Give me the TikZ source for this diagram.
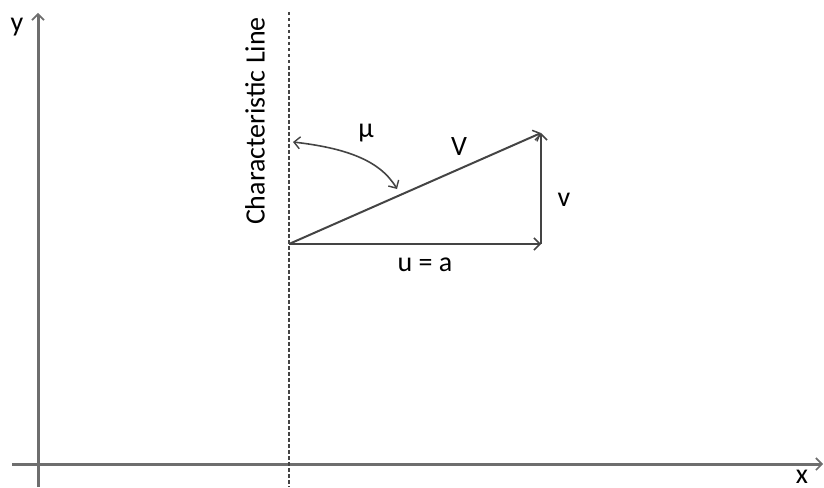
\documentclass[tikz,border=0pt]{standalone}
\usepackage{fontspec}
\setmainfont{Carlito}
\usetikzlibrary{arrows.meta}
\definecolor{axisgrey}{HTML}{6E6E6E}
\definecolor{vecgrey}{HTML}{444444}
\tikzset{
  axis/.style={draw=axisgrey, line width=3pt, -{Straight Barb[length=6pt,width=12pt,line width=1.6pt]}},
  vec/.style={draw=vecgrey, line width=2pt, -{Straight Barb[length=6pt,width=12pt,line width=1.5pt]}},
  charline/.style={draw=vecgrey, line width=1.9pt, dash pattern=on 3.5pt off 2.5pt},
  lbl/.style={text=black, font=\fontsize{28}{32}\selectfont, inner sep=0pt}
}
\begin{document}
\begin{tikzpicture}[x=1pt,y=-1pt]
\useasboundingbox (0,0) rectangle (824,487);
% axes
\coordinate (ybot) at (38,487);
\coordinate (ytop) at (38,13);
\coordinate (xleft) at (12,464);
\coordinate (xright) at (823,464);
\draw[axis] (ybot) -- (ytop);
\draw[axis] (xleft) -- (xright);
\node[lbl] (ylab) at (17,27) {y};
\node[lbl, anchor=base] (xlab) at (802,483) {x};
% characteristic line
\coordinate (ctop) at (289,12);
\coordinate (cbot) at (289,487);
\draw[charline] (ctop) -- (cbot);
\node[lbl, rotate=90] (clab) at (255,121) {Characteristic Line};
% triangle
\coordinate (O) at (289,244);
\coordinate (R) at (541,244);
\coordinate (T) at (541,133);
\draw[vec] (O) -- (T);
\draw[vec] (O) -- (R);
\draw[vec] (R) -- (T);
\node[lbl] (Vlab) at (459,147) {V};
\node[lbl] (vlab) at (564,200) {v};
\node[lbl] (ualab) at (425,265) {u = a};
\node[lbl] (mulab) at (366,133) {μ};
% mu arc
\coordinate (m1) at (293,142);
\coordinate (m2) at (397,189);
\draw[vec, {Straight Barb[length=6pt,width=12pt,line width=1.4pt]}-{Straight Barb[length=6pt,width=12pt,line width=1.4pt]}, line width=1.6pt] (m1) .. controls (345,148) and (380,160) .. (m2);
\end{tikzpicture}
\end{document}
